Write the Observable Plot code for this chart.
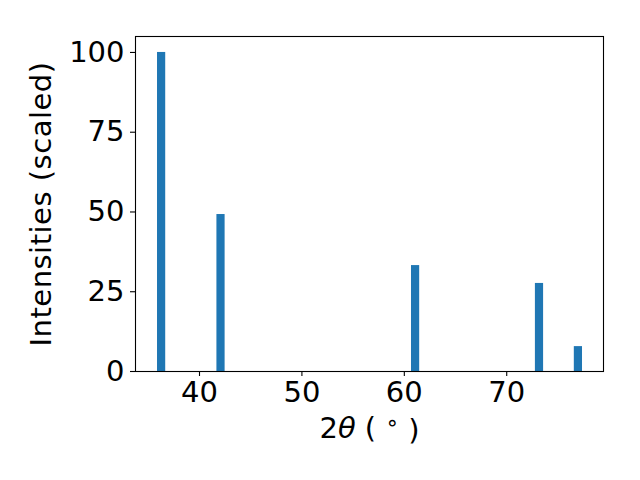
<!DOCTYPE html>
<html>
<head>
<meta charset="utf-8">
<script src="https://cdn.jsdelivr.net/npm/d3@7"></script>
<script src="https://cdn.jsdelivr.net/npm/@observablehq/plot@0.6"></script>
<style>
  html, body { margin: 0; padding: 0; background: #fff; }
</style>
</head>
<body>
<div id="chart"></div>
<script>
const twoTheta = [36.3, 42.1, 61.1, 73.2, 77.0];
const intensity = [100, 49.2, 33.2, 27.6, 7.8];
const xTicks = [40, 50, 60, 70];
const yTicks = [0, 25, 50, 75, 100];
const xLabel = "2θ (°)";
const yLabel = "Intensities (scaled)";

const data = twoTheta.map((x, i) => ({x, y: intensity[i]}));
const barWidth = 0.8;
const fs = 29;

const plot = Plot.plot({
  width: 640,
  height: 480,
  marginLeft: 135,
  marginRight: 37,
  marginTop: 36,
  marginBottom: 109,
  style: {fontFamily: "DejaVu Sans", fontSize: fs + "px", color: "black", background: "white"},
  x: {domain: [33.75, 79.45]},
  y: {domain: [0, 105]},
  marks: [
    Plot.rectY(data, {x1: d => d.x - barWidth / 2, x2: d => d.x + barWidth / 2, y1: 0, y2: "y", fill: "#1f77b4"}),
    Plot.axisX({ticks: xTicks, tickSize: 5, tickPadding: 5, tickFormat: d => String(d), label: null, strokeWidth: 1.1, fontSize: fs}),
    Plot.axisY({ticks: yTicks, tickSize: 5, tickPadding: 6, tickFormat: d => String(d), label: null, strokeWidth: 1.1, fontSize: fs}),
    Plot.frame({stroke: "black", strokeWidth: 1.1}),
    Plot.text([xLabel], {frameAnchor: "bottom", dy: 57, lineAnchor: "middle", text: d => d, fontSize: fs, fill: "black"}),
    Plot.text([yLabel], {frameAnchor: "left", dx: -94, rotate: -90, lineAnchor: "middle", textAnchor: "middle", text: d => d, fontSize: fs, fill: "black"})
  ]
});
document.getElementById("chart").appendChild(plot);

// Style the x label like matplotlib mathtext: italic theta, superscript circle
d3.select(plot).selectAll("text").filter(function() { return this.textContent === xLabel; }).each(function() {
  const t = d3.select(this);
  t.text(null);
  t.append("tspan").text("2");
  t.append("tspan").attr("font-style", "italic").text("θ");
  t.append("tspan").text(" ( ");
  t.append("tspan").attr("dy", "-0.35em").attr("font-size", "0.75em").text("∘");
  t.append("tspan").attr("dy", "0.35em").text(" )");
});
d3.select(plot).selectAll("text").filter(function() { return this.textContent === yLabel; })
  .attr("letter-spacing", "0.5px");
</script>
</body>
</html>
